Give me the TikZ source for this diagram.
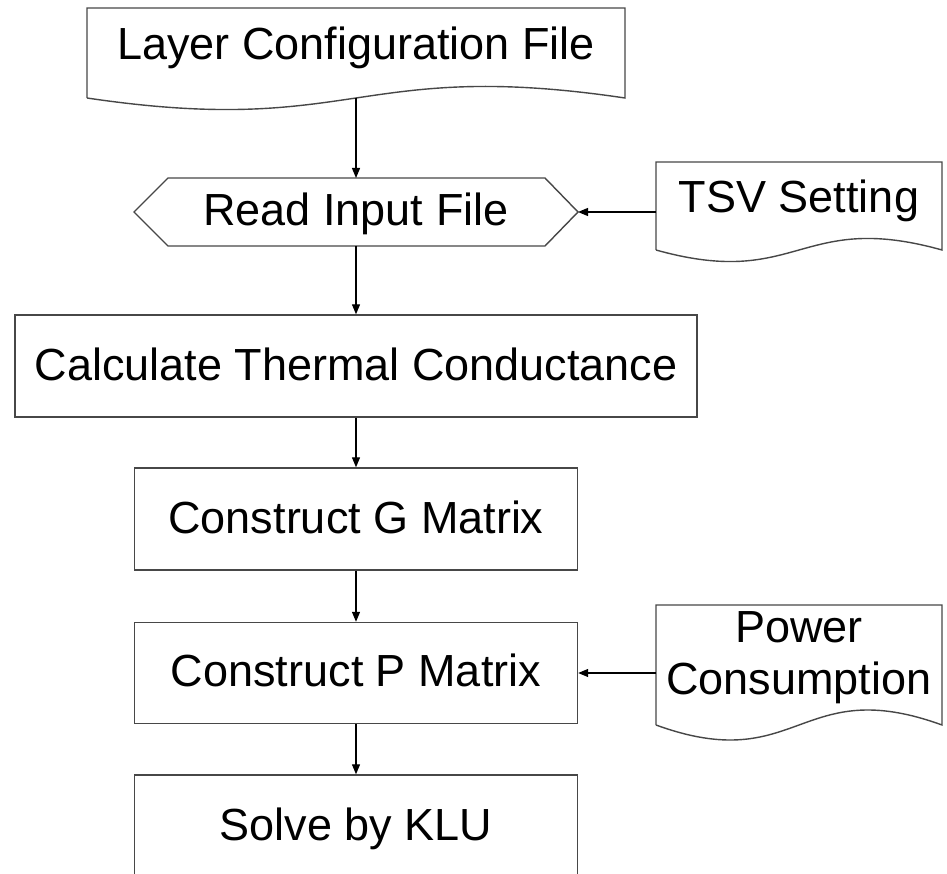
\documentclass[tikz,border=0pt]{standalone}
\usepackage{fontspec}
\setmainfont{Liberation Sans}
\usetikzlibrary{arrows.meta,calc}
\begin{document}
\begin{tikzpicture}[x=1pt,y=-1pt,
  shapeline/.style={draw=black!72,line width=1.4pt},
  boxnode/.style={shapeline,inner sep=0pt,minimum width=443pt},
  ghost/.style={inner sep=0pt,outer sep=0pt},
  txt/.style={font=\fontsize{45}{52}\selectfont,anchor=base,inner sep=0pt},
  arr/.style={draw=black,line width=1.2pt,-{Triangle[length=10pt,width=8pt]}}
]
\clip (0,0) rectangle (947,874);
\fill[white] (0,0) rectangle (947,874);

% Layer Configuration File (document)
\node[ghost,minimum width=538pt,minimum height=90pt] (lc) at (356,53) {};
\draw[shapeline] (lc.south west) -- (lc.north west) -- (lc.north east) -- (lc.south east)
  .. controls ($(lc.south)+(0,-40)$) and ($(lc.south)+(0,40)$) .. (lc.south west);
\node[txt] (lct) at (356,60) {Layer Configuration File};

% Read Input File (hexagon)
\node[ghost,minimum width=444pt,minimum height=68pt] (rd) at (356,212) {};
\draw[shapeline] (rd.west) -- ([xshift=34pt]rd.north west) -- ([xshift=-33pt]rd.north east)
  -- (rd.east) -- ([xshift=-33pt]rd.south east) -- ([xshift=34pt]rd.south west) -- cycle;
\node[txt] (rdt) at (356,226) {Read Input File};

% TSV Setting (document)
\node[ghost,minimum width=286pt,minimum height=88pt] (tsv) at (799,206) {};
\draw[shapeline] (tsv.south west) -- (tsv.north west) -- (tsv.north east) -- (tsv.south east)
  .. controls ($(tsv.south)+(0,-40)$) and ($(tsv.south)+(0,40)$) .. (tsv.south west);
\node[txt] (tsvt) at (799,213) {TSV Setting};

% Calculate Thermal Conductance
\node[boxnode,minimum width=682pt,minimum height=102pt] (calc) at (356,366) {};
\node[txt] (calct) at (356,380) {Calculate Thermal Conductance};

% Construct G Matrix
\node[boxnode,minimum height=102pt] (g) at (356,519) {};
\node[txt] (gt) at (356,533) {Construct G Matrix};

% Construct P Matrix
\node[boxnode,minimum height=101pt] (p) at (356,673) {};
\node[txt] (pt) at (356,686) {Construct P Matrix};

% Power Consumption (document)
\node[ghost,minimum width=286pt,minimum height=120pt] (pw) at (799,665) {};
\draw[shapeline] (pw.south west) -- (pw.north west) -- (pw.north east) -- (pw.south east)
  .. controls ($(pw.south)+(0,-52)$) and ($(pw.south)+(0,52)$) .. (pw.south west);
\node[txt] (pwt1) at (799,642) {Power};
\node[txt] (pwt2) at (799,694) {Consumption};

% Solve by KLU
\node[boxnode,minimum height=110pt] (klu) at (356,830) {};
\node[txt] (klut) at (356,840) {Solve by KLU};

% connectors
\draw[arr] (lc.south) -- (rd.north);
\draw[arr] (rd.south) -- (calc.north);
\draw[arr] (calc.south) -- (g.north);
\draw[arr] (g.south) -- (p.north);
\draw[arr] (p.south) -- (klu.north);
\draw[arr] (tsv.west |- rd.east) -- (rd.east);
\draw[arr] (pw.west |- p.east) -- (p.east);
\end{tikzpicture}
\end{document}
